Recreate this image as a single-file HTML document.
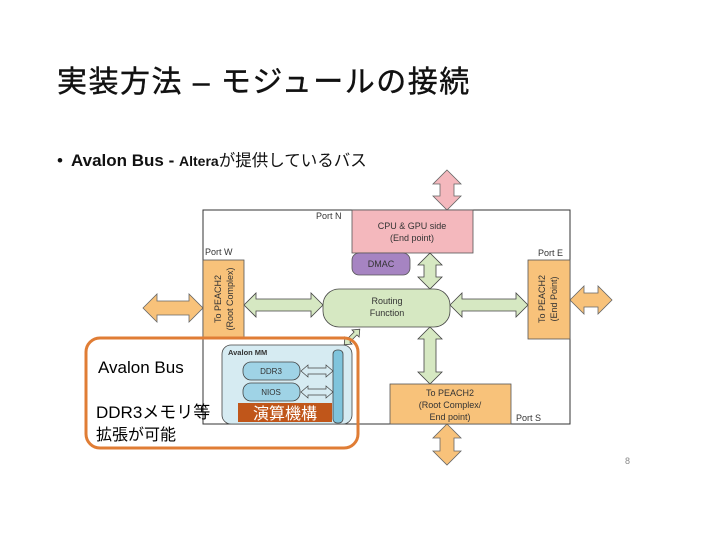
<!DOCTYPE html>
<html><head><meta charset="utf-8"><style>
body{margin:0;background:#fff;}
svg{display:block;}
text{font-family:"Liberation Sans","Noto Sans CJK JP",sans-serif;}
</style></head><body>
<svg width="720" height="540" xmlns="http://www.w3.org/2000/svg">
<rect width="720" height="540" fill="#fff"/>
<text x="57" y="92" font-size="30" fill="#111" letter-spacing="1.5" stroke="#111" stroke-width="0.4">実装方法 – モジュールの接続</text>
<text x="57" y="166" font-size="17" fill="#111">•</text>
<text x="71" y="166" font-size="17" font-weight="bold" fill="#111">Avalon Bus - <tspan font-size="14">Altera</tspan><tspan font-weight="normal" font-size="16.5">が提供しているバス</tspan></text>

<!-- frame -->
<rect x="203" y="210" width="367" height="214" fill="#fff" stroke="#333" stroke-width="1"/>
<!-- external arrows -->
<polygon points="447,170 461,184 454,184 454,196 461,196 447,210 433,196 440,196 440,184 433,184" fill="#f4b8bd" stroke="#666" stroke-width="0.8"/>
<polygon points="447,424 461,438 454,438 454,451 461,451 447,465 433,451 440,451 440,438 433,438" fill="#f8c27a" stroke="#666" stroke-width="0.8"/>
<polygon points="143,308 157,294 157,301 189,301 189,294 203,308 189,322 189,315 157,315 157,322" fill="#f8c27a" stroke="#666" stroke-width="0.8"/>
<polygon points="570,300 584,286 584,293 598,293 598,286 612,300 598,314 598,307 584,307 584,314" fill="#f8c27a" stroke="#666" stroke-width="0.8"/>

<!-- internal green arrows -->
<g fill="#d6e8c2" stroke="#444" stroke-width="0.8">
<polygon points="430,253 442,265 436,265 436,277 442,277 430,289 418,277 424,277 424,265 418,265"/>
<polygon points="430,327 442,339 436,339 436,372 442,372 430,384 418,372 424,372 424,339 418,339"/>
<polygon points="244,305 256,293 256,299 311,299 311,293 323,305 311,317 311,311 256,311 256,317"/>
<polygon points="450,305 462,293 462,299 516,299 516,293 528,305 516,317 516,311 462,311 462,317"/>
<g transform="translate(352,337) rotate(-45)">
<polygon points="-11,0 -5,-5 -5,-2 5,-2 5,-5 11,0 5,5 5,2 -5,2 -5,5"/>
</g>
</g>

<!-- boxes -->
<rect x="352" y="210" width="121" height="43" fill="#f4b8bd" stroke="#555" stroke-width="0.8"/>
<text x="412" y="229" font-size="9" text-anchor="middle" fill="#333">CPU &amp; GPU side</text>
<text x="412" y="241" font-size="9" text-anchor="middle" fill="#333">(End point)</text>
<rect x="352" y="253" width="58" height="22" rx="7" fill="#a684c2" stroke="#555" stroke-width="0.8"/>
<text x="381" y="267" font-size="9" text-anchor="middle" fill="#333">DMAC</text>
<text x="316" y="219" font-size="9" fill="#333">Port N</text>
<text x="205" y="255" font-size="9" fill="#333">Port W</text>
<text x="538" y="256" font-size="9" fill="#333">Port E</text>
<text x="516" y="421" font-size="9" fill="#333">Port S</text>

<rect x="203" y="260" width="41" height="78" fill="#f8c27a" stroke="#555" stroke-width="0.8"/>
<text transform="translate(221,299) rotate(-90)" font-size="9" text-anchor="middle" fill="#333">To PEACH2</text>
<text transform="translate(233,299) rotate(-90)" font-size="9" text-anchor="middle" fill="#333">(Root Complex)</text>
<rect x="528" y="260" width="42" height="79" fill="#f8c27a" stroke="#555" stroke-width="0.8"/>
<text transform="translate(545,299) rotate(-90)" font-size="9" text-anchor="middle" fill="#333">To PEACH2</text>
<text transform="translate(557,299) rotate(-90)" font-size="9" text-anchor="middle" fill="#333">(End Point)</text>

<rect x="323" y="289" width="127" height="38" rx="16" fill="#d6e8c2" stroke="#444" stroke-width="0.8"/>
<text x="387" y="304" font-size="9" text-anchor="middle" fill="#333">Routing</text>
<text x="387" y="316" font-size="9" text-anchor="middle" fill="#333">Function</text>

<rect x="390" y="384" width="121" height="40" fill="#f8c27a" stroke="#555" stroke-width="0.8"/>
<text x="450" y="396" font-size="9" text-anchor="middle" fill="#333">To PEACH2</text>
<text x="450" y="408" font-size="9" text-anchor="middle" fill="#333">(Root Complex/</text>
<text x="450" y="420" font-size="9" text-anchor="middle" fill="#333">End point)</text>

<!-- Avalon MM -->
<rect x="222" y="345" width="130" height="79" rx="9" fill="#d6ebf2" stroke="#444" stroke-width="0.8"/>
<text x="228" y="355" font-size="7.5" font-weight="bold" fill="#333">Avalon MM</text>
<rect x="333" y="350" width="10" height="73" rx="4" fill="#7fc4dc" stroke="#444" stroke-width="0.8"/>
<rect x="243" y="362" width="57" height="18" rx="8" fill="#9fd3e6" stroke="#444" stroke-width="0.8"/>
<text x="271" y="374" font-size="8" text-anchor="middle" fill="#333">DDR3</text>
<rect x="243" y="383" width="57" height="18" rx="8" fill="#9fd3e6" stroke="#444" stroke-width="0.8"/>
<text x="271" y="395" font-size="8" text-anchor="middle" fill="#333">NIOS</text>
<g fill="#d6ebf2" stroke="#444" stroke-width="0.7">
<polygon points="301,371 308,365 308,368 326,368 326,365 333,371 326,377 326,374 308,374 308,377"/>
<polygon points="301,392 308,386 308,389 326,389 326,386 333,392 326,398 326,395 308,395 308,398"/>
</g>
<rect x="238" y="403" width="94" height="19" fill="#c0561a"/>
<text x="285" y="419" font-size="16" text-anchor="middle" fill="#fff">演算機構</text>

<!-- orange highlight -->
<rect x="86" y="338" width="272" height="110" rx="14" fill="none" stroke="#e07d35" stroke-width="3"/>
<text x="98" y="373" font-size="17" fill="#000">Avalon Bus</text>
<text x="96" y="418" font-size="17" fill="#000">DDR3メモリ等</text>
<text x="96" y="440" font-size="16" fill="#000">拡張が可能</text>

<text x="625" y="464" font-size="9" fill="#888">8</text>
</svg>
</body></html>
